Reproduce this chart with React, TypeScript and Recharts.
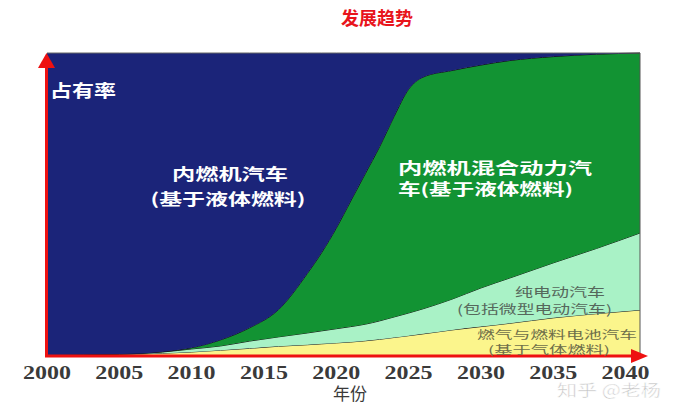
import { AreaChart, Area, XAxis, YAxis, ReferenceLine } from "recharts";

// years sampled along the curves (2041 = right edge of the plot)
const years = [2000, 2005, 2008, 2010, 2012, 2014, 2016, 2018, 2019, 2020, 2021, 2022, 2023, 2024, 2025, 2026, 2028, 2030, 2032, 2035, 2038, 2041];
// share in %, stacked bottom to top
const fuelCell = [0, 0.2, 0.6, 1.0, 1.6, 2.2, 2.9, 3.4, 3.7, 4.0, 4.3, 4.7, 5.2, 5.8, 6.4, 7.0, 8.3, 9.4, 10.5, 12.3, 13.7, 14.9];
const electric = [0, 0.1, 0.4, 1.0, 1.4, 2.4, 3.1, 3.9, 4.3, 4.7, 5.1, 5.5, 6.1, 6.8, 7.5, 8.3, 10.2, 12.8, 15.0, 18.2, 21.6, 25.5];
const hybrid = [0, 0, 0.1, 0.4, 2.0, 4.4, 9.0, 19.7, 26.0, 33.3, 41.6, 49.8, 57.7, 66.4, 74.1, 76.7, 75.7, 73.8, 72.0, 68.3, 64.3, 59.6];
const ice = [100, 99.7, 98.9, 97.6, 95.0, 91.0, 85.0, 73, 66, 58, 49, 40, 31, 21, 12, 8, 5.8, 4, 2.5, 1.2, 0.4, 0];
const xTicks = [2000, 2005, 2010, 2015, 2020, 2025, 2030, 2035, 2040];

const data = years.map((year, i) => ({
  year,
  fuelCell: fuelCell[i],
  electric: electric[i],
  hybrid: hybrid[i],
  ice: ice[i],
}));

const W = 680;
const H = 415;
const plot = { left: 47, top: 53, right: 640, bottom: 355 };
const RED = "#ee1111";
const CJK = "'Noto Sans CJK SC', sans-serif";

const YearTick = (props: any) => {
  const { x, y, payload } = props;
  return (
    <text
      x={x}
      y={y + 24}
      textAnchor="middle"
      fontFamily="'Liberation Serif', serif"
      fontWeight="bold"
      fontSize={18}
      fill="#3a3a3a"
      textLength={48}
      lengthAdjust="spacingAndGlyphs"
    >
      {payload.value}
    </text>
  );
};

export default function App() {
  return (
    <div style={{ position: "absolute", left: 0, top: 0, width: W, height: H, background: "#fff" }}>
      <AreaChart
        width={W}
        height={H}
        data={data}
        margin={{ top: plot.top, left: plot.left, right: W - plot.right, bottom: H - plot.bottom - 30 }}
      >
        <XAxis
          dataKey="year"
          type="number"
          domain={[2000, 2041]}
          ticks={xTicks}
          axisLine={false}
          tickLine={false}
          tickSize={0}
          tickMargin={0}
          height={30}
          tick={<YearTick />}
          interval={0}
        />
        <YAxis hide domain={[0, 100]} />
        <Area type="monotone" dataKey="fuelCell" stackId="s" fill="#fbf58c" fillOpacity={1} stroke="#1a1a1a" strokeWidth={1} isAnimationActive={false} />
        <Area type="monotone" dataKey="electric" stackId="s" fill="#a9f2c6" fillOpacity={1} stroke="#1a1a1a" strokeWidth={1} isAnimationActive={false} />
        <Area type="monotone" dataKey="hybrid" stackId="s" fill="#129333" fillOpacity={1} stroke="#111" strokeWidth={1} isAnimationActive={false} />
        <Area type="monotone" dataKey="ice" stackId="s" fill="#1b2479" fillOpacity={1} stroke="#666" strokeWidth={1} isAnimationActive={false} />
        <ReferenceLine x={2041} stroke="#555" strokeWidth={1} />
      </AreaChart>
      <svg width={W} height={H} style={{ position: "absolute", left: 0, top: 0, pointerEvents: "none" }}>
        {/* red axes with arrows */}
        <line x1={plot.left - 0.5} y1={plot.bottom + 1} x2={plot.left - 0.5} y2={plot.top + 12} stroke={RED} strokeWidth={3} />
        <polygon points={`${plot.left - 9},${plot.top + 15} ${plot.left + 8},${plot.top + 15} ${plot.left - 0.5},${plot.top}`} fill={RED} />
        <line x1={plot.left - 2} y1={plot.bottom + 1} x2={plot.right - 8} y2={plot.bottom + 1} stroke={RED} strokeWidth={3} />
        <polygon points={`${plot.right - 9},${plot.bottom - 6} ${plot.right - 9},${plot.bottom + 8} ${plot.right + 8},${plot.bottom + 1}`} fill={RED} />

        <text x={377} y={25} textAnchor="middle" fontFamily={CJK} fontWeight="bold" fontSize={18} fill="#e8141c">发展趋势</text>

        <text x={50} y={97} fontFamily={CJK} fontWeight="bold" fontSize={17} fill="#fff" textLength={66} lengthAdjust="spacingAndGlyphs">占有率</text>

        <text x={230} y={180} textAnchor="middle" fontFamily={CJK} fontWeight="bold" fontSize={16} fill="#fff" textLength={116} lengthAdjust="spacingAndGlyphs">内燃机汽车</text>
        <text x={228} y={205} textAnchor="middle" fontFamily={CJK} fontWeight="bold" fontSize={16} fill="#fff" textLength={155} lengthAdjust="spacingAndGlyphs">(基于液体燃料)</text>

        <text x={398} y={174} fontFamily={CJK} fontWeight="bold" fontSize={15.5} fill="#fff" textLength={194} lengthAdjust="spacingAndGlyphs">内燃机混合动力汽</text>
        <text x={398} y={195} fontFamily={CJK} fontWeight="bold" fontSize={15.5} fill="#fff" textLength={175} lengthAdjust="spacingAndGlyphs">车(基于液体燃料)</text>

        <text x={515} y={297} fontFamily={CJK} fontSize={12.5} fill="#56685c" textLength={90} lengthAdjust="spacingAndGlyphs">纯电动汽车</text>
        <text x={457} y={314} fontFamily={CJK} fontSize={12.5} fill="#56685c" textLength={155} lengthAdjust="spacingAndGlyphs">(包括微型电动汽车)</text>

        <text x={477} y={339} fontFamily={CJK} fontSize={11.5} fill="#6f6f4a" textLength={160} lengthAdjust="spacingAndGlyphs">燃气与燃料电池汽车</text>
        <text x={488} y={354} fontFamily={CJK} fontSize={11} fill="#6f6f4a" textLength={122} lengthAdjust="spacingAndGlyphs">(基于气体燃料)</text>

        <text x={350} y={400} textAnchor="middle" fontFamily={CJK} fontSize={17} fill="#3a3a3a">年份</text>

        <text x={557} y={396} fontFamily={CJK} fontSize={16} fill="#c4c4c4" stroke="#fff" strokeWidth={0.5} textLength={104} lengthAdjust="spacingAndGlyphs">知乎 @老杨</text>
      </svg>
    </div>
  );
}
